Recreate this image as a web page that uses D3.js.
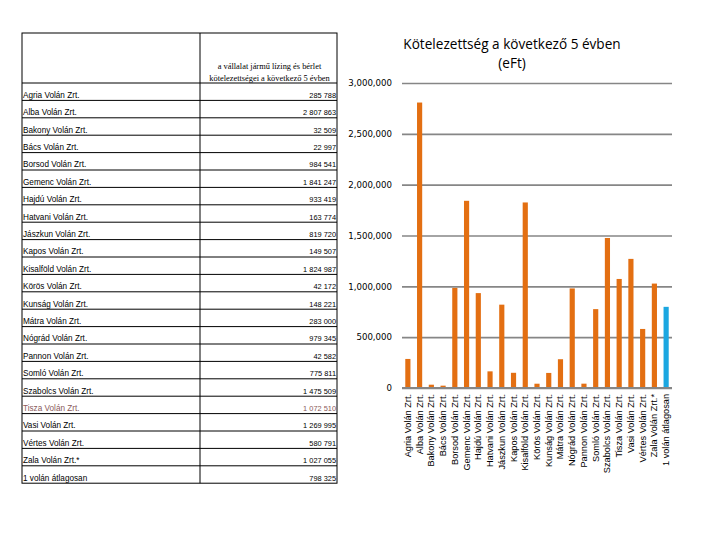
<!DOCTYPE html>
<html lang="hu">
<head>
<meta charset="utf-8">
<title>Kötelezettség a következő 5 évben</title>
<script src="https://cdn.jsdelivr.net/npm/d3@7"></script>
<style>
  body { margin: 0; background: #fff; }
  svg { display: block; }
</style>
</head>
<body>
<script>

// table rows / bar categories
var tableNames = ["Agria Volán Zrt.", "Alba Volán Zrt.", "Bakony Volán Zrt.", "Bács Volán Zrt.",
  "Borsod Volán Zrt.", "Gemenc Volán Zrt.", "Hajdú Volán Zrt.", "Hatvani Volán Zrt.",
  "Jászkun Volán Zrt.", "Kapos Volán Zrt.", "Kisalföld Volán Zrt.", "Körös Volán Zrt.",
  "Kunság Volán Zrt.", "Mátra Volán Zrt.", "Nógrád Volán Zrt.", "Pannon Volán Zrt.",
  "Somló Volán Zrt.", "Szabolcs Volán Zrt.", "Tisza Volán Zrt.", "Vasi Volán Zrt.",
  "Vértes Volán Zrt.", "Zala Volán Zrt.*", "1 volán átlagosan"];

// eFt
var values = [285788, 2807863, 32509, 22997, 984541, 1841247, 933419, 163774,
  819720, 149507, 1824987, 42172, 148221, 283000, 979345, 42582,
  775811, 1475509, 1072510, 1269995, 580791, 1027055, 798325];

var headerLines = ["a vállalat jármű lízing és bérlet", "kötelezettségei a következő 5 évben"];
var titleLines = ["Kötelezettség a következő 5 évben", "(eFt)"];
var yTicks = [0, 500000, 1000000, 1500000, 2000000, 2500000, 3000000];

var w = 720, h = 540;

var svg = d3.select("body").append("svg")
    .attr("width", w)
    .attr("height", h);

// ---------- table ----------
var tLeft = 22, tRight = 337, tMid = 200, tTop = 33, tHead = 83, rowH = 17.4;
var spaced = function(v) { return d3.format(",")(v).replace(/,/g, " "); };

var table = svg.append("g").attr("class", "table");

table.append("rect")
    .attr("x", tLeft).attr("y", tTop)
    .attr("width", tRight - tLeft)
    .attr("height", tHead - tTop + rowH * tableNames.length)
    .attr("fill", "none").attr("stroke", "#000");

table.append("line")
    .attr("x1", tMid).attr("x2", tMid)
    .attr("y1", tTop).attr("y2", tHead + rowH * tableNames.length)
    .attr("stroke", "#000");

table.selectAll("text.head")
    .data(headerLines)
    .enter().append("text")
    .attr("class", "head")
    .attr("x", (tMid + tRight) / 2 + 1)
    .attr("y", function(d, i) { return 69 + i * 12; })
    .attr("text-anchor", "middle")
    .attr("font-family", "Liberation Serif, serif")
    .attr("font-size", 8.4)
    .text(function(d) { return d; });

var rows = table.selectAll("g.row")
    .data(tableNames)
    .enter().append("g")
    .attr("class", "row")
    .attr("transform", function(d, i) { return "translate(0," + (tHead + rowH * i) + ")"; });

rows.append("line")
    .attr("x1", tLeft).attr("x2", tRight)
    .attr("y1", 0).attr("y2", 0)
    .attr("stroke", "#000");

rows.append("text")
    .attr("x", tLeft + 1)
    .attr("y", rowH - 2.5)
    .attr("font-family", "Liberation Sans, sans-serif")
    .attr("font-size", 8.2)
    .attr("fill", function(d) { return d.indexOf("Tisza") === 0 ? "#8a5a5a" : "#000"; })
    .text(function(d) { return d; });

rows.append("text")
    .attr("x", tRight - 1)
    .attr("y", rowH - 2.5)
    .attr("text-anchor", "end")
    .attr("font-family", "Liberation Sans, sans-serif")
    .attr("font-size", 7.4)
    .attr("fill", function(d) { return d.indexOf("Tisza") === 0 ? "#8a5a5a" : "#000"; })
    .text(function(d, i) { return spaced(values[i]); });

// ---------- chart ----------
var plotLeft = 402, plotRight = 672, plotTop = 83, plotBottom = 388;

var x = d3.scaleBand()
    .domain(tableNames)
    .range([plotLeft, plotRight])
    .paddingInner(0.56)
    .paddingOuter(0.28);

var y = d3.scaleLinear()
    .domain([0, 3000000])
    .range([plotBottom, plotTop]);

svg.selectAll("text.title")
    .data(titleLines)
    .enter().append("text")
    .attr("class", "title")
    .attr("x", 512)
    .attr("y", function(d, i) { return 48.5 + i * 19; })
    .attr("text-anchor", "middle")
    .attr("font-family", "Open Sans, sans-serif")
    .attr("font-size", 13.6)
    .attr("fill", "#000")
    .text(function(d) { return d; });

var yAxis = d3.axisLeft(y)
    .tickValues(yTicks)
    .tickSize(-(plotRight - plotLeft))
    .tickPadding(10)
    .tickFormat(d3.format(","));

var gy = svg.append("g")
    .attr("transform", "translate(" + plotLeft + ",0)")
    .call(yAxis);

gy.select(".domain").remove();
gy.selectAll(".tick line")
    .attr("stroke", "#868686")
    .attr("stroke-width", 1.6);
gy.selectAll(".tick text")
    .attr("font-family", "DejaVu Sans, sans-serif")
    .attr("font-size", 8.6)
    .attr("fill", "#000");

svg.selectAll("rect.bar")
    .data(values)
    .enter().append("rect")
    .attr("class", "bar")
    .attr("x", function(d, i) { return x(tableNames[i]); })
    .attr("width", x.bandwidth())
    .attr("y", function(d) { return y(d); })
    .attr("height", function(d) { return y(0) - y(d); })
    .attr("fill", function(d, i) { return i === values.length - 1 ? "#1ba7e1" : "#e36f12"; });

// baseline
svg.append("line")
    .attr("x1", plotLeft).attr("x2", plotRight)
    .attr("y1", y(0)).attr("y2", y(0))
    .attr("stroke", "#868686")
    .attr("stroke-width", 2.2);

var xAxis = d3.axisBottom(x).tickSize(0).tickPadding(0);

var gx = svg.append("g")
    .attr("transform", "translate(0," + plotBottom + ")")
    .call(xAxis);

gx.select(".domain").remove();
gx.selectAll(".tick text")
    .attr("transform", "translate(3,6) rotate(-90)")
    .attr("text-anchor", "end")
    .attr("dy", 0)
    .attr("x", 0).attr("y", 0)
    .attr("font-family", "Liberation Sans, sans-serif")
    .attr("font-size", 9.2)
    .attr("fill", "#000");

</script>
</body>
</html>
